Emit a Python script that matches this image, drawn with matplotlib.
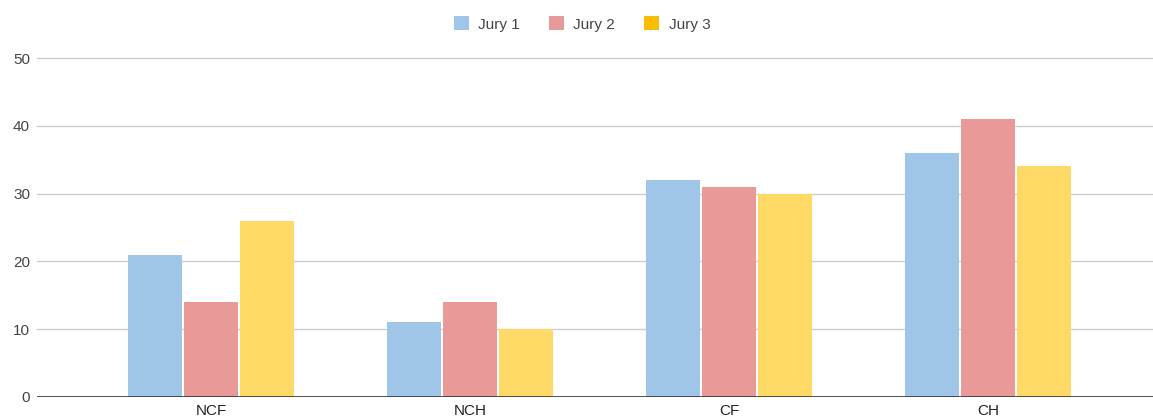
import matplotlib.pyplot as plt
import numpy as np
from matplotlib.patches import Patch

categories = ["NCF", "NCH", "CF", "CH"]
jury_1 = [21, 11, 32, 36]
jury_2 = [14, 14, 31, 41]
jury_3 = [26, 10, 30, 34]
series_names = ["Jury 1", "Jury 2", "Jury 3"]
y_ticks = [0, 10, 20, 30, 40, 50]

bar_colors = ["#9fc5e8", "#ea9999", "#ffd966"]
legend_colors = ["#9fc5e8", "#ea9999", "#fbbc04"]

plt.rcParams["font.family"] = ["Liberation Sans", "DejaVu Sans"]

W, H = 1153, 418
fig = plt.figure(figsize=(W / 100, H / 100), dpi=100)
ax = fig.add_axes([37 / W, 21 / H, (W - 37) / W, (397 - 58) / H])

x = np.arange(len(categories))
width = 0.21
step = 0.216
for i, vals in enumerate([jury_1, jury_2, jury_3]):
    ax.bar(x + (i - 1) * step, vals, width, color=bar_colors[i], zorder=2)

ax.set_xlim(-0.672, 3.637)
ax.set_ylim(0, 50)
for t in y_ticks[1:]:
    ax.axhline(t, color="#cccccc", lw=1, zorder=1, clip_on=False)
ax.axhline(0, color="#333333", lw=1.2, zorder=3)

ax.set_yticks(y_ticks)
ax.set_xticks(x)
ax.set_xticklabels(categories)
ax.tick_params(axis="both", length=0, labelsize=11, colors="#222222")
ax.tick_params(axis="y", pad=5, labelcolor="#444444")
ax.tick_params(axis="x", pad=5)
for s in ax.spines.values():
    s.set_visible(False)

handles = [Patch(facecolor=c, edgecolor="none") for c in legend_colors]
fig.legend(handles, series_names, loc="center", bbox_to_anchor=(582 / W, 1 - 24 / H),
           ncol=3, frameon=False, fontsize=11, handlelength=1.0, handleheight=1.0,
           handletextpad=0.6, columnspacing=1.9, labelcolor="#444444")

fig.savefig("out.png", dpi=100)
